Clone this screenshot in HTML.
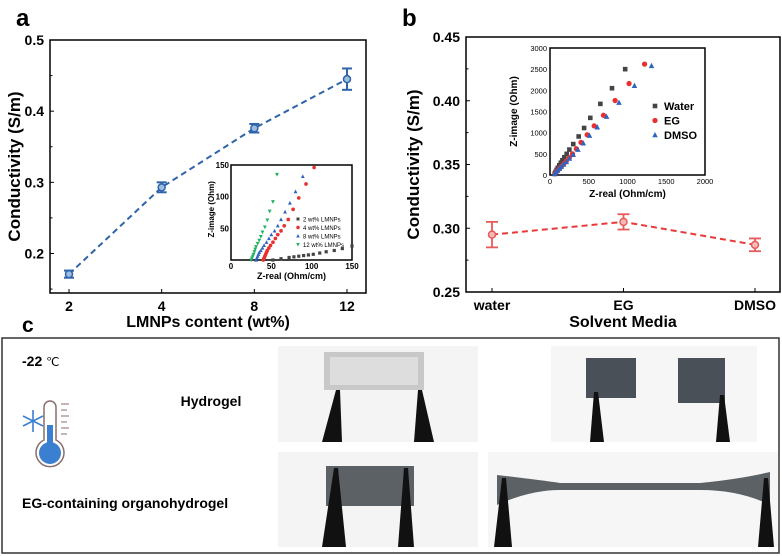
<!DOCTYPE html>
<html><head><meta charset="utf-8"><style>
body{margin:0;background:#fff;}
svg{display:block;font-family:"Liberation Sans",Arial,sans-serif;}
</style></head><body>
<svg id="fig" width="782" height="556" viewBox="0 0 782 556">
<g id="pa"></g>
<g id="pb"></g>
<g id="pc">
 <text x="22" y="332" font-size="21" font-weight="bold">c</text>
 <rect x="2" y="338" width="777" height="215" fill="none" stroke="#333" stroke-width="1.5"/>
 <text x="22" y="366" font-size="14" font-weight="bold">-22 <tspan font-weight="normal" font-size="12">℃</tspan></text>
 <text x="211" y="406" font-size="14" font-weight="bold" text-anchor="middle">Hydrogel</text>
 <text x="22" y="508" font-size="14" font-weight="bold">EG-containing organohydrogel</text>
 <g>
  <path d="M44,440 V407 a6,6 0 0 1 12,0 V440 a14,14 0 1 1 -12,0 Z" fill="#fff" stroke="#8a6e6e" stroke-width="1.5"/>
  <circle cx="50" cy="453" r="11" fill="#3b7fd0"/>
  <rect x="47" y="425" width="6" height="22" fill="#3b7fd0"/>
  <g stroke="#8a6e6e" stroke-width="1"><line x1="61" y1="404" x2="69" y2="404"/><line x1="61" y1="410" x2="67" y2="410"/><line x1="61" y1="416" x2="69" y2="416"/><line x1="61" y1="422" x2="67" y2="422"/><line x1="61" y1="428" x2="69" y2="428"/><line x1="61" y1="434" x2="67" y2="434"/></g>
  <g stroke="#3b7fd0" stroke-width="1.6"><line x1="33" y1="410" x2="33" y2="432"/><line x1="23" y1="416" x2="43" y2="426"/><line x1="23" y1="426" x2="43" y2="416"/></g>
 </g>
 <g>
  <rect x="278" y="346" width="200" height="96" fill="#f4f4f4"/>
  <rect x="324" y="352" width="100" height="38" fill="#c8c8c8"/>
  <rect x="330" y="357" width="88" height="28" fill="#e6e6e6" opacity="0.7"/>
  <polygon points="322,442 336,390 340,390 342,442" fill="#111"/>
  <polygon points="414,442 418,390 422,390 434,442" fill="#111"/>
 </g>
 <g>
  <rect x="551" y="346" width="206" height="96" fill="#f6f6f6"/>
  <rect x="586" y="358" width="50" height="40" fill="#4a5058"/>
  <rect x="678" y="358" width="47" height="45" fill="#4a5058"/>
  <polygon points="590,442 594,392 598,392 604,442" fill="#111"/>
  <polygon points="716,442 720,395 724,395 730,442" fill="#111"/>
 </g>
 <g>
  <rect x="278" y="452" width="200" height="95" fill="#f4f4f4"/>
  <rect x="326" y="466" width="88" height="40" fill="#5c6166"/>
  <polygon points="322,547 334,468 338,468 346,547" fill="#111"/>
  <polygon points="398,547 404,468 408,468 414,547" fill="#111"/>
 </g>
 <g>
  <rect x="488" y="452" width="290" height="95" fill="#f6f6f6"/>
  <path d="M497,475 Q540,480 560,483 L700,483 Q740,479 770,472 L770,505 Q740,490 700,490 L560,490 Q530,490 497,505 Z" fill="#5c6166"/>
  <polygon points="494,547 502,478 506,478 512,547" fill="#111"/>
  <polygon points="758,547 764,478 768,478 774,547" fill="#111"/>
 </g>
</g>
</svg>
<script>
const NS='http://www.w3.org/2000/svg';
function mk(p,tag,a,t){const e=document.createElementNS(NS,tag);for(const k in a)e.setAttribute(k,a[k]);if(t!==undefined)e.textContent=t;p.appendChild(e);return e;}

// ---- Panel a data ----
const aCats=['2','4','8','12'];
const aVals=[0.171,0.293,0.376,0.445];
const aErr=[0.005,0.007,0.006,0.015];
const aYTicks=[0.2,0.3,0.4,0.5];
// inset a
const iaSeries=['2 wt% LMNPs','4 wt% LMNPs','8 wt% LMNPs','12 wt% LMNPs'];
const iaX2=[52,62,72,78,84,90,96,102,110,118,128,138,150];
const iaY2=[0,2,4,5,6,7,8,9,11,13,15,18,22];
const iaX4=[40,41,42,43,44,45,47,49,52,55,58,62,66,71,77,84,93,103];
const iaY4=[0,3,6,9,12,15,19,23,28,34,40,46,54,64,80,98,120,146];
const iaX8=[31,32,33,34,35,37,39,41,44,47,50,54,58,62,67,73,80,89];
const iaY8=[0,3,6,9,12,15,19,23,28,34,40,46,54,64,76,90,108,132];
const iaX12=[25,26,27,28,29,30,31,33,35,37,39,42,45,48,52,57];
const iaY12=[0,3,6,9,13,17,21,26,31,37,44,52,63,77,92,135];
const iaTicks=[0,50,100,150];

// ---- Panel b data ----
const bCats=['water','EG','DMSO'];
const bVals=[0.295,0.305,0.287];
const bErr=[0.010,0.006,0.005];
const bYTicks=[0.25,0.30,0.35,0.40,0.45];
const ibSeries=['Water','EG','DMSO'];
const ibXW=[970,800,650,520,440,370,300,250,215,185,160,140,120,100,85,70,60];
const ibYW=[2500,2050,1680,1350,1110,910,730,600,500,420,350,290,230,170,120,70,30];
const ibXE=[1220,1020,840,690,570,480,400,340,290,250,210,180,150,125,100,80,65];
const ibYE=[2620,2160,1760,1410,1160,950,770,620,500,410,330,270,210,160,110,70,30];
const ibXD=[1310,1090,890,730,610,510,430,360,300,250,210,175,145,120,95,75,60];
const ibYD=[2580,2110,1710,1380,1130,930,750,600,480,390,310,250,195,150,105,65,25];
const ibXTicks=[0,500,1000,1500,2000];
const ibYTicks=[0,500,1000,1500,2000,2500,3000];

function marker(g,shape,x,y,s,col){
  if(shape==='sq') return mk(g,'rect',{x:x-s,y:y-s,width:2*s,height:2*s,fill:col});
  if(shape==='ci') return mk(g,'circle',{cx:x,cy:y,r:s*1.15,fill:col});
  if(shape==='tu') return mk(g,'polygon',{points:`${x},${y-s*1.3} ${x-s*1.2},${y+s} ${x+s*1.2},${y+s}`,fill:col});
  return mk(g,'polygon',{points:`${x},${y+s*1.3} ${x-s*1.2},${y-s} ${x+s*1.2},${y-s}`,fill:col});
}

// Panel a
(function(){
 const g=document.getElementById('pa');
 const L=50,R=366,T=40,B=293,y0=0.1445,y1=0.5;
 const catX=i=>69+i*(347-69)/(aCats.length-1);
 const Y=v=>B-(v-y0)/(y1-y0)*(B-T);
 const t=mk(g,'text',{x:16,y:26,'font-size':24,'font-weight':'bold'},'a');
 
 
 const f=mk(g,'rect',{x:L,y:T,width:R-L,height:B-T,fill:'none',stroke:'#000','stroke-width':1.5});
 
 
 aYTicks.forEach(v=>{const y=Y(v);mk(g,'line',{x1:L,y1:y,x2:L+4,y2:y,stroke:'#000'});
  const l=mk(g,'text',{x:L-6,y:y+5,'font-size':14,'font-weight':'bold','text-anchor':'end'},v.toFixed(1));
  
  
  mk(g,'line',{x1:L,y1:Y(v-0.05),x2:L+2.5,y2:Y(v-0.05),stroke:'#000'});});
 aCats.forEach((c,i)=>{const x=catX(i);mk(g,'line',{x1:x,y1:B,x2:x,y2:B-4,stroke:'#000'});
  const l=mk(g,'text',{x:x,y:B+18,'font-size':14,'font-weight':'bold','text-anchor':'middle'},c);
  
  });
 const yl=mk(g,'text',{x:0,y:0,'font-size':17,'font-weight':'bold','text-anchor':'middle',transform:`translate(20,${(T+B)/2}) rotate(-90)`},'Conductivity (S/m)');
 
 
 const xl=mk(g,'text',{x:(L+R)/2,y:327,'font-size':16,'font-weight':'bold','text-anchor':'middle'},'LMNPs content (wt%)');
 
 
 const ln=mk(g,'polyline',{points:aVals.map((v,i)=>catX(i)+','+Y(v)).join(' '),fill:'none',stroke:'#2f64a8','stroke-width':2,'stroke-dasharray':'6,4'});
 
 
 aVals.forEach((v,i)=>{const x=catX(i),gg=mk(g,'g',{});
  
  
  const a=Y(v+aErr[i]),b=Y(v-aErr[i]);
  mk(gg,'line',{x1:x,y1:a,x2:x,y2:b,stroke:'#2f64a8','stroke-width':2});
  mk(gg,'line',{x1:x-5,y1:a,x2:x+5,y2:a,stroke:'#2f64a8','stroke-width':2});
  mk(gg,'line',{x1:x-5,y1:b,x2:x+5,y2:b,stroke:'#2f64a8','stroke-width':2});
  mk(gg,'circle',{cx:x,cy:Y(v),r:3.5,fill:'#9dbde0',stroke:'#2f64a8','stroke-width':1.5});});
 // inset
 const iL=231,iR=352,iT=165,iB=260;
 const IX=v=>iL+v/150*(iR-iL),IY=v=>iB-v/150*(iB-iT);
 const ig=mk(g,'g',{});
 
 
 mk(ig,'rect',{x:iL,y:iT,width:iR-iL,height:iB-iT,fill:'#fff',stroke:'#000','stroke-width':1.5});
 iaTicks.forEach(v=>{mk(ig,'text',{x:IX(v),y:iB+9,'font-size':8,'font-weight':'bold','text-anchor':'middle'},v);
  if(v>0)mk(ig,'text',{x:iL-2,y:IY(v)+3,'font-size':8,'font-weight':'bold','text-anchor':'end'},v);});
 mk(ig,'text',{x:IX(75),y:iB+19,'font-size':9,'font-weight':'bold','text-anchor':'middle'},'Z-real (Ohm/cm)');
 mk(ig,'text',{x:0,y:0,'font-size':8,'font-weight':'bold','text-anchor':'middle',transform:`translate(${iL-17},${IY(80)}) rotate(-90)`},'Z-image (Ohm)');
 const sets=[[iaX2,iaY2,'#444','sq'],[iaX4,iaY4,'#e83030','ci'],[iaX8,iaY8,'#2f64c0','tu'],[iaX12,iaY12,'#22b060','td']];
 sets.forEach((s,k)=>{const sg=mk(ig,'g',{});
  
  
  s[0].forEach((x,j)=>marker(sg,s[3],IX(x),IY(s[1][j]),1.6,s[2]));
  marker(sg,s[3],298,219+k*8.5,1.5,s[2]);
  mk(sg,'text',{x:303,y:221.5+k*8.5,'font-size':6},iaSeries[k]);});
})();

// Panel b
(function(){
 const g=document.getElementById('pb');
 const L=466,R=780,T=37,B=292,y0=0.25,y1=0.45;
 const catX=i=>492+i*(755-492)/(bCats.length-1);
 const Y=v=>B-(v-y0)/(y1-y0)*(B-T);
 const t=mk(g,'text',{x:402,y:26,'font-size':24,'font-weight':'bold'},'b');
 
 
 const f=mk(g,'rect',{x:L,y:T,width:R-L,height:B-T,fill:'none',stroke:'#000','stroke-width':1.5});
 
 
 bYTicks.forEach(v=>{const y=Y(v);mk(g,'line',{x1:L,y1:y,x2:L+4,y2:y,stroke:'#000'});
  if(v>0.25)mk(g,'line',{x1:L,y1:Y(v-0.025),x2:L+2.5,y2:Y(v-0.025),stroke:'#000'});
  const l=mk(g,'text',{x:L-6,y:y+5,'font-size':14,'font-weight':'bold','text-anchor':'end'},v.toFixed(2));
  
  });
 bCats.forEach((c,i)=>{const x=catX(i);mk(g,'line',{x1:x,y1:B,x2:x,y2:B-4,stroke:'#000'});
  const l=mk(g,'text',{x:x,y:B+18,'font-size':14,'font-weight':'bold','text-anchor':'middle'},c);
  
  });
 const yl=mk(g,'text',{x:0,y:0,'font-size':17,'font-weight':'bold','text-anchor':'middle',transform:`translate(419,${(T+B)/2}) rotate(-90)`},'Conductivity (S/m)');
 
 
 const xl=mk(g,'text',{x:623,y:327,'font-size':16,'font-weight':'bold','text-anchor':'middle'},'Solvent Media');
 
 
 const ln=mk(g,'polyline',{points:bVals.map((v,i)=>catX(i)+','+Y(v)).join(' '),fill:'none',stroke:'#e83a3a','stroke-width':2,'stroke-dasharray':'6,4'});
 
 
 bVals.forEach((v,i)=>{const x=catX(i),gg=mk(g,'g',{});
  
  
  const a=Y(v+bErr[i]),b=Y(v-bErr[i]);
  mk(gg,'line',{x1:x,y1:a,x2:x,y2:b,stroke:'#e85a5a','stroke-width':1.8});
  mk(gg,'line',{x1:x-6,y1:a,x2:x+6,y2:a,stroke:'#e85a5a','stroke-width':1.8});
  mk(gg,'line',{x1:x-6,y1:b,x2:x+6,y2:b,stroke:'#e85a5a','stroke-width':1.8});
  mk(gg,'circle',{cx:x,cy:Y(v),r:3.5,fill:'#f6b8b8',stroke:'#e85a5a','stroke-width':1.5});});
 // inset
 const iL=550,iR=705,iT=48,iB=175;
 const IX=v=>iL+v/2000*(iR-iL),IY=v=>iB-v/3000*(iB-iT);
 const ig=mk(g,'g',{});
 
 
 mk(ig,'rect',{x:iL,y:iT,width:iR-iL,height:iB-iT,fill:'#fff',stroke:'#000','stroke-width':1.5});
 ibXTicks.forEach(v=>mk(ig,'text',{x:IX(v),y:iB+9,'font-size':7.5,'text-anchor':'middle'},v));
 ibYTicks.forEach(v=>mk(ig,'text',{x:iL-3,y:IY(v)+3,'font-size':7.5,'text-anchor':'end'},v));
 mk(ig,'text',{x:(iL+iR)/2,y:iB+22,'font-size':10,'font-weight':'bold','text-anchor':'middle'},'Z-real (Ohm/cm)');
 mk(ig,'text',{x:0,y:0,'font-size':10,'font-weight':'bold','text-anchor':'middle',transform:`translate(${iL-33},${(iT+iB)/2}) rotate(-90)`},'Z-image (Ohm)');
 const sets=[[ibXW,ibYW,'#444','sq'],[ibXE,ibYE,'#e83030','ci'],[ibXD,ibYD,'#2f64c0','tu']];
 sets.forEach((s,k)=>{const sg=mk(ig,'g',{});
  
  
  s[0].forEach((x,j)=>marker(sg,s[3],IX(x),IY(s[1][j]),2.3,s[2]));
  marker(sg,s[3],655,106+k*14.5,2.3,s[2]);
  mk(sg,'text',{x:664,y:110+k*14.5,'font-size':11,'font-weight':'bold'},ibSeries[k]);});
})();
</script>
</body></html>
